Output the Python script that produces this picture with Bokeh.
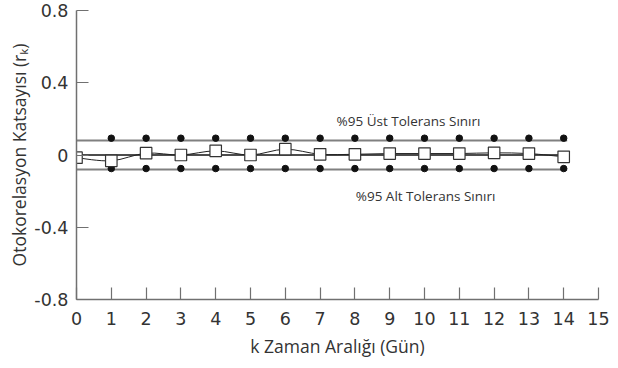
from bokeh.plotting import figure
from bokeh.models import Range1d, FixedTicker
from bokeh.core.properties import value
from bokeh.embed import file_html
from bokeh.resources import INLINE

# ---- data ----
lags = [0, 1, 2, 3, 4, 5, 6, 7, 8, 9, 10, 11, 12, 13, 14]
acf = [-0.015, -0.032, 0.010, 0.000, 0.023, 0.000, 0.032, 0.004, 0.004, 0.008, 0.008, 0.008, 0.012, 0.008, -0.010]
dot_lags = [1, 2, 3, 4, 5, 6, 7, 8, 9, 10, 11, 12, 13, 14]
upper_dots = [0.093] * 14
lower_dots = [-0.075] * 14
upper_limit = 0.08
lower_limit = -0.08
line_end = 14.1
y_ticks = [-0.8, -0.4, 0.0, 0.4, 0.8]
y_tick_labels = ["-0.8", "-0.4", "0", "0.4", "0.8"]
x_ticks = list(range(0, 16))
upper_text = "%95 Üst Tolerans Sınırı"
lower_text = "%95 Alt Tolerans Sınırı"
upper_text_pos = (9.54, 0.19)
lower_text_pos = (10.03, -0.227)

FONT = "Open Sans"
TICK_FONT = "DejaVu Sans"

p = figure(width=610, height=360, x_range=Range1d(0, 15), y_range=Range1d(-0.8, 0.8),
           min_border_left=76, min_border_right=12, min_border_top=10, min_border_bottom=57,
           output_backend="svg", toolbar_location=None)
p.outline_line_color = None
p.grid.visible = False
p.background_fill_color = "white"
p.border_fill_color = "white"

# tolerance limit lines and zero line
p.line([0, line_end], [upper_limit, upper_limit], line_color="#808080", line_width=2)
p.line([0, line_end], [lower_limit, lower_limit], line_color="#808080", line_width=2)
p.line([0, line_end], [0, 0], line_color="#111111", line_width=1.3)

# smooth curve through the autocorrelation points (Catmull-Rom as cubic Bezier)
n = len(lags)
x0s, y0s, x1s, y1s, cx0, cy0, cx1, cy1 = [], [], [], [], [], [], [], []
for i in range(n - 1):
    a = max(i - 1, 0)
    d = min(i + 2, n - 1)
    x0s.append(lags[i]); y0s.append(acf[i])
    x1s.append(lags[i + 1]); y1s.append(acf[i + 1])
    cx0.append(lags[i] + (lags[i + 1] - lags[a]) / 6.0)
    cy0.append(acf[i] + (acf[i + 1] - acf[a]) / 6.0)
    cx1.append(lags[i + 1] - (lags[d] - lags[i]) / 6.0)
    cy1.append(acf[i + 1] - (acf[d] - acf[i]) / 6.0)
p.bezier(x0=x0s, y0=y0s, x1=x1s, y1=y1s, cx0=cx0, cy0=cy0, cx1=cx1, cy1=cy1,
         line_color="#222222", line_width=1)

# limit dots
p.scatter(dot_lags, upper_dots, size=6.5, color="#111111")
p.scatter(dot_lags, lower_dots, size=6.5, color="#111111")

# autocorrelation squares
p.scatter(lags, acf, marker="square", size=11.5, fill_color="white",
          line_color="#333333", line_width=1.2)

# annotations
p.text(x=[upper_text_pos[0]], y=[upper_text_pos[1]], text=[upper_text],
       text_font=value(FONT), text_font_size="13.5px", text_color="#333333",
       text_align="center", text_baseline="middle")
p.text(x=[lower_text_pos[0]], y=[lower_text_pos[1]], text=[lower_text],
       text_font=value(FONT), text_font_size="13.5px", text_color="#333333",
       text_align="center", text_baseline="middle")

# axes
for ax in (p.xaxis[0], p.yaxis[0]):
    ax.axis_line_color = "#707070"
    ax.axis_line_width = 1.5
    ax.major_tick_line_color = "#707070"
    ax.major_tick_line_width = 1.2
    ax.major_tick_in = 12
    ax.major_tick_out = 0
    ax.minor_tick_line_color = None
    ax.major_label_text_font = TICK_FONT
    ax.major_label_text_font_size = "17.5px"
    ax.major_label_text_color = "#333333"
    ax.axis_label_text_font = FONT
    ax.axis_label_text_font_size = "17.5px"
    ax.axis_label_text_font_style = "normal"
    ax.axis_label_text_color = "#333333"

p.xaxis.ticker = FixedTicker(ticks=x_ticks)
p.xaxis.major_label_standoff = 12
p.xaxis.axis_label = "k Zaman Aralığı (Gün)"
p.xaxis.axis_label_standoff = 6

p.yaxis.ticker = FixedTicker(ticks=y_ticks)
p.yaxis.major_label_overrides = {t: l for t, l in zip(y_ticks, y_tick_labels)}
p.yaxis.major_label_standoff = 8
p.yaxis.axis_label = "Otokorelasyon Katsayısı (rₖ)"
p.yaxis.axis_label_standoff = 0

open("out.html", "w").write(file_html(p, INLINE))
